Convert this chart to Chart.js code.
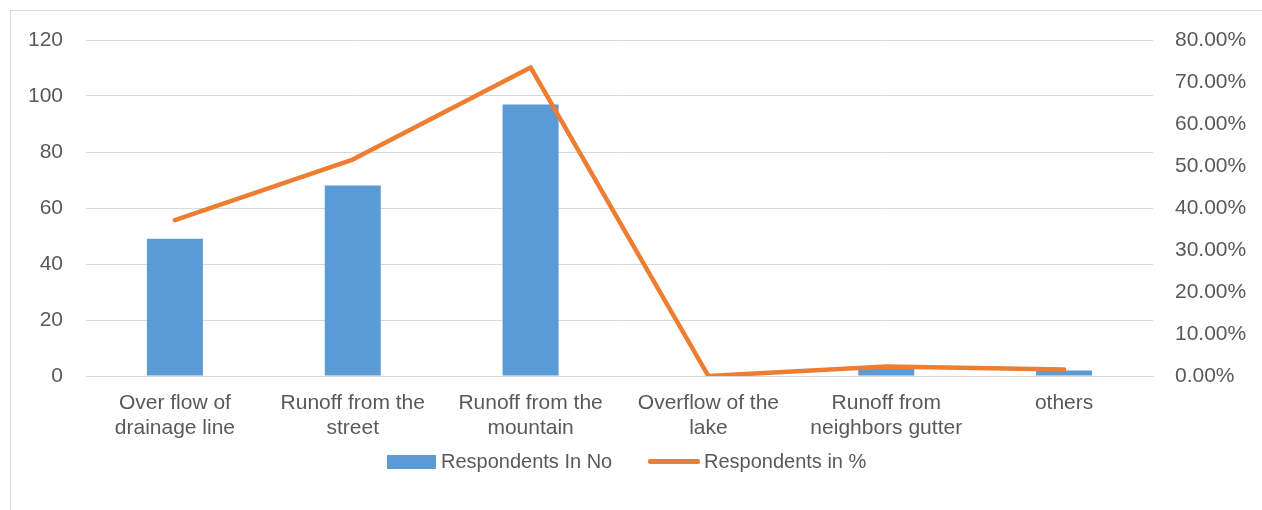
<!DOCTYPE html>
<html><head><meta charset="utf-8">
<script src="https://cdn.jsdelivr.net/npm/chart.js@4"></script>
<style>
html,body{margin:0;padding:0;background:#fff;}
#wrap{position:relative;width:1262px;height:510px;overflow:hidden;}
#frame{position:absolute;left:10px;top:10px;width:1262px;height:520px;border:1px solid #d9d9d9;box-sizing:border-box;}
canvas{position:absolute;left:0;top:0;}
#legend{position:absolute;top:449px;left:0;width:1262px;font-family:"Liberation Sans",Arial,sans-serif;font-size:20px;color:#595959;}
.it{position:absolute;top:0;height:24px;line-height:24px;white-space:nowrap;}
.sw{display:inline-block;vertical-align:middle;position:relative;top:-1px;}
</style></head>
<body>
<div id="wrap">
<div id="frame"></div>
<canvas id="c" width="1262" height="510"></canvas>
<div id="legend">
 <div class="it" style="left:387px"><span class="sw" style="width:49px;height:14px;background:#5B9BD5;margin-right:5px;"></span>Respondents In No</div>
 <div class="it" style="left:648px"><span class="sw" style="width:52px;height:4.5px;border-radius:2px;background:#ED7D31;margin-right:4px;"></span>Respondents in %</div>
</div>
</div>
<script>
const categories = [["Over flow of","drainage line"],["Runoff from the","street"],["Runoff from the","mountain"],["Overflow of the","lake"],["Runoff from","neighbors gutter"],["others"]];
const respondentsNo = [49, 68, 97, 0, 3, 2];
const respondentsPct = [37.12, 51.52, 73.48, 0, 2.27, 1.52];
const leftTicks = [0, 20, 40, 60, 80, 100, 120];
const rightTicks = [0, 10, 20, 30, 40, 50, 60, 70, 80];

const font = {family:'"Liberation Sans", Arial, sans-serif', size:21};
new Chart(document.getElementById('c'), {
  data:{
    labels: categories,
    datasets:[
      {type:'line', label:'Respondents in %', data:respondentsPct, yAxisID:'y1', borderColor:'#ED7D31', backgroundColor:'#ED7D31', borderWidth:4.5, pointRadius:0, tension:0, borderCapStyle:'round', borderJoinStyle:'round', order:0},
      {type:'bar', label:'Respondents In No', data:respondentsNo, yAxisID:'y', backgroundColor:'#5B9BD5', barPercentage:0.315, categoryPercentage:1, order:1}
    ]
  },
  options:{
    responsive:false, animation:false,
    layout:{padding:{top:40,left:0,right:0,bottom:0}},
    plugins:{legend:{display:false}, tooltip:{enabled:false}},
    scales:{
      x:{
        offset:true,
        grid:{display:false, drawTicks:false},
        border:{display:true, color:'#d9d9d9', width:1},
        ticks:{font:{...font, lineHeight:1.17}, color:'#595959', padding:15, maxRotation:0, autoSkip:false},
        afterFit(a){a.height=134;}
      },
      y:{
        position:'left', min:0, max:120,
        afterBuildTicks(a){a.ticks = leftTicks.map(v=>({value:v}));},
        grid:{color:'#d9d9d9', drawTicks:false, lineWidth:1},
        border:{display:false},
        ticks:{font, color:'#595959', padding:23},
        afterFit(a){a.width=86;}
      },
      y1:{
        position:'right', min:0, max:80,
        afterBuildTicks(a){a.ticks = rightTicks.map(v=>({value:v}));},
        grid:{display:false, drawTicks:false},
        border:{display:false},
        ticks:{font, color:'#595959', padding:22, callback:v=>v.toFixed(2)+'%'},
        afterFit(a){a.width=109;}
      }
    }
  }
});
</script>
</body></html>
